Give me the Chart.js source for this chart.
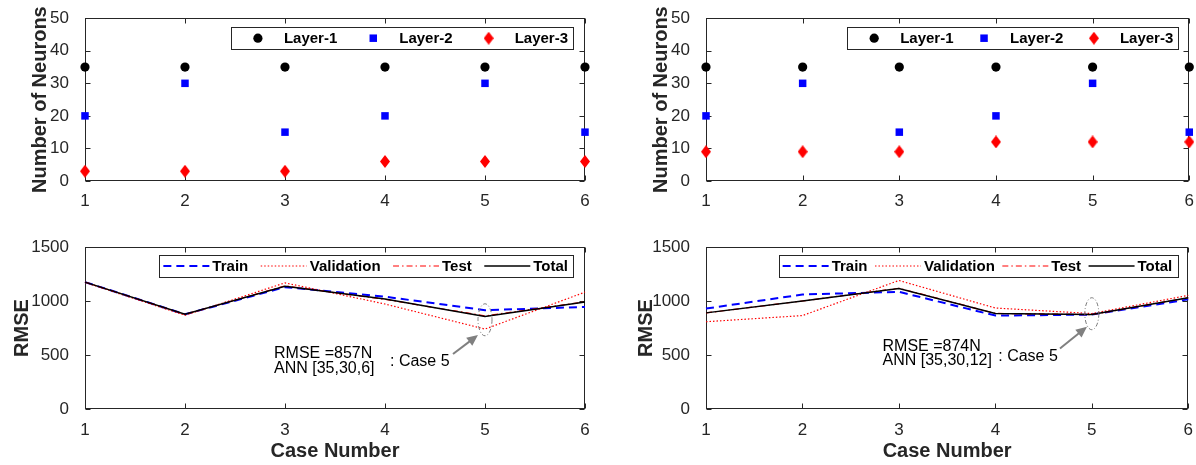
<!DOCTYPE html>
<html>
<head>
<meta charset="utf-8">
<script src="https://cdn.jsdelivr.net/npm/chart.js@4.4.0/dist/chart.umd.min.js"></script>
<style>
  html, body { margin: 0; padding: 0; background: #fff; }
  #wrap { position: relative; width: 1196px; height: 465px; overflow: hidden; }
  #wrap canvas { position: absolute; }
</style>
</head>
<body>
<div id="wrap">
  <canvas id="neuronsA" width="600" height="215" style="left:0;top:0"></canvas>
  <canvas id="neuronsB" width="596" height="215" style="left:600px;top:0"></canvas>
  <canvas id="rmseA" width="600" height="240" style="left:0;top:225px"></canvas>
  <canvas id="rmseB" width="596" height="240" style="left:600px;top:225px"></canvas>
</div>
<script>
// ---- data ----
const caseNumbers = [1, 2, 3, 4, 5, 6];

// left column (ANN [35,30,6])
const layer1A = [35, 35, 35, 35, 35, 35];
const layer2A = [20, 30, 15, 20, 30, 15];
const layer3A = [3, 3, 3, 6, 6, 6];
const trainA = [1175, 877, 1128, 1040, 915, 945];
const validA = [1172, 868, 1168, 972, 740, 1082];
const testA = [1175, 876, 1140, 1015, 862, 992];
const totalA = [1175, 877, 1136, 1018, 857, 990];

// right column (ANN [35,30,12])
const layer1B = [35, 35, 35, 35, 35, 35];
const layer2B = [20, 30, 15, 20, 30, 15];
const layer3B = [9, 9, 9, 12, 12, 12];
const trainB = [930, 1060, 1085, 865, 874, 1015];
const validB = [808, 865, 1190, 935, 884, 1052];
const testB = [890, 1000, 1118, 885, 874, 1030];
const totalB = [890, 1000, 1115, 885, 874, 1030];

const neuronTicks = { min: 0, max: 50, step: 10 };
const rmseTicks = { min: 0, max: 1500, step: 500 };

// ---- look ----
const FONT = "'Liberation Sans', Arial, Helvetica, sans-serif";
const AX = '#262626';
Chart.defaults.font.family = FONT;
Chart.defaults.color = AX;

function makeDiamond(w, h, color) {
  const c = document.createElement('canvas');
  c.width = w; c.height = h;
  const g = c.getContext('2d');
  g.fillStyle = color;
  g.beginPath();
  g.moveTo(w / 2, 0); g.lineTo(w, h / 2); g.lineTo(w / 2, h); g.lineTo(0, h / 2);
  g.closePath(); g.fill();
  return c;
}
const redDiamond = makeDiamond(10, 13, '#ff0000');

function pts(vals) {
  return caseNumbers.map((c, i) => ({ x: c, y: vals[i] }));
}

// MATLAB style box with inward ticks on all four sides
const boxPlugin = {
  id: 'matBox',
  beforeDatasetsDraw(chart) {
    const { ctx, chartArea: a, scales: { x, y } } = chart;
    const L = Math.round(a.left) + 0.5, R = Math.round(a.right) - 0.5;
    const T = Math.round(a.top) + 0.5, B = Math.round(a.bottom) - 0.5;
    const tl = 5;
    ctx.save();
    ctx.strokeStyle = AX;
    ctx.lineWidth = 1;
    ctx.strokeRect(L, T, R - L, B - T);
    ctx.beginPath();
    x.ticks.forEach(t => {
      const px = Math.round(x.getPixelForValue(t.value)) + 0.5;
      ctx.moveTo(px, B); ctx.lineTo(px, B - tl);
      ctx.moveTo(px, T); ctx.lineTo(px, T + tl);
    });
    y.ticks.forEach(t => {
      const py = Math.round(y.getPixelForValue(t.value)) + 0.5;
      ctx.moveTo(L, py); ctx.lineTo(L + tl, py);
      ctx.moveTo(R, py); ctx.lineTo(R - tl, py);
    });
    ctx.stroke();
    ctx.restore();
  }
};

// note text, arrow and dashed ellipse around case 5
const annotPlugin = {
  id: 'annot',
  afterDatasetsDraw(chart, args, o) {
    const { ctx, scales: { x, y } } = chart;
    ctx.save();
    // ellipse
    ctx.strokeStyle = '#7a7a7a';
    ctx.lineWidth = 1;
    ctx.setLineDash([4, 2, 1, 2]);
    ctx.beginPath();
    ctx.ellipse(x.getPixelForValue(o.ellipse.x), y.getPixelForValue(o.ellipse.y), o.ellipse.rx, o.ellipse.ry, 0, 0, Math.PI * 2);
    ctx.stroke();
    ctx.setLineDash([]);
    // arrow
    const x1 = x.getPixelForValue(o.arrow.x1), y1 = y.getPixelForValue(o.arrow.y1);
    const x2 = x.getPixelForValue(o.arrow.x2), y2 = y.getPixelForValue(o.arrow.y2);
    const ang = Math.atan2(y2 - y1, x2 - x1);
    const hl = 11, hw = 5;
    ctx.strokeStyle = '#808080';
    ctx.fillStyle = '#808080';
    ctx.lineWidth = 2;
    ctx.beginPath();
    ctx.moveTo(x1, y1);
    ctx.lineTo(x2 - Math.cos(ang) * hl * 0.8, y2 - Math.sin(ang) * hl * 0.8);
    ctx.stroke();
    ctx.beginPath();
    ctx.moveTo(x2, y2);
    ctx.lineTo(x2 - Math.cos(ang) * hl + Math.sin(ang) * hw, y2 - Math.sin(ang) * hl - Math.cos(ang) * hw);
    ctx.lineTo(x2 - Math.cos(ang) * hl - Math.sin(ang) * hw, y2 - Math.sin(ang) * hl + Math.cos(ang) * hw);
    ctx.closePath();
    ctx.fill();
    // text
    ctx.fillStyle = '#000';
    ctx.font = '16px ' + FONT;
    ctx.textAlign = 'left';
    ctx.textBaseline = 'middle';
    o.texts.forEach(t => ctx.fillText(t.text, x.getPixelForValue(t.x), y.getPixelForValue(t.y)));
    ctx.restore();
  }
};

// horizontal boxed legend in the upper right corner of the axes
const legendPlugin = {
  id: 'matLegend',
  afterDraw(chart, args, o) {
    const { ctx, chartArea: a } = chart;
    const sets = chart.data.datasets;
    const iconW = 52;
    ctx.save();
    ctx.font = 'bold 15px ' + FONT;
    const widths = sets.map(d => ctx.measureText(d.label).width);
    let total = o.padL + o.padR;
    widths.forEach((w, i) => { total += iconW + w + (i < widths.length - 1 ? o.gap : 0); });
    const right = a.right - o.right;
    const left = right - total;
    const top = a.top + o.top;
    const h = o.height;
    const cy = top + h / 2;
    ctx.fillStyle = '#fff';
    ctx.fillRect(left, top, total, h);
    ctx.strokeStyle = AX;
    ctx.lineWidth = 1;
    ctx.strokeRect(Math.round(left) + 0.5, Math.round(top) + 0.5, Math.round(total), h);
    let xx = left + o.padL;
    sets.forEach((d, i) => {
      if (o.kind === 'marker') {
        ctx.save();
        ctx.fillStyle = d.backgroundColor;
        ctx.strokeStyle = d.borderColor;
        Chart.helpers.drawPoint(ctx, { pointStyle: d.pointStyle, rotation: 0, radius: d.pointRadius, borderWidth: 0 }, xx + 26, cy);
        ctx.restore();
      } else {
        ctx.save();
        ctx.strokeStyle = d.borderColor;
        ctx.lineWidth = d.borderWidth;
        ctx.setLineDash(d.borderDash || []);
        ctx.beginPath();
        ctx.moveTo(xx + 3, cy);
        ctx.lineTo(xx + 49, cy);
        ctx.stroke();
        ctx.restore();
      }
      ctx.fillStyle = '#000';
      ctx.textAlign = 'left';
      ctx.textBaseline = 'middle';
      ctx.fillText(d.label, xx + iconW, cy + 1);
      xx += iconW + widths[i] + o.gap;
    });
    ctx.restore();
  }
};

function scaleOpts(cfg) {
  return {
    x: {
      type: 'linear', min: 1, max: 6,
      ticks: { stepSize: 1, padding: cfg.xTickPad, font: { size: 17 }, color: AX },
      grid: { display: false }, border: { display: false },
      title: cfg.xTitle
        ? { display: true, text: cfg.xTitle, font: { size: 20, weight: 'bold' }, color: AX, padding: { top: 0, bottom: 2 } }
        : { display: false },
      afterFit: s => { s.height = cfg.xH; }
    },
    y: {
      type: 'linear', min: cfg.ticks.min, max: cfg.ticks.max,
      ticks: { stepSize: cfg.ticks.step, padding: 8, font: { size: 17 }, color: AX, callback: v => String(v) },
      grid: { display: false }, border: { display: false },
      title: { display: true, text: cfg.yTitle, font: { size: 20, weight: 'bold' }, color: AX, padding: { top: cfg.yTitlePad, bottom: 0 } },
      afterFit: s => { s.width = cfg.yW; }
    }
  };
}

function build(id, type, datasets, cfg) {
  return new Chart(document.getElementById(id), {
    type: type,
    data: { datasets: datasets },
    options: {
      responsive: false,
      animation: false,
      events: [],
      layout: { padding: { left: 0, top: cfg.top, right: cfg.right, bottom: 0 } },
      scales: scaleOpts(cfg),
      plugins: {
        legend: { display: false },
        tooltip: { enabled: false },
        matLegend: cfg.legend,
        annot: cfg.annot || false
      }
    },
    plugins: [boxPlugin, annotPlugin, legendPlugin]
  });
}

function neuronSets(l1, l2, l3) {
  return [
    { label: 'Layer-1', data: pts(l1), pointStyle: 'circle', pointRadius: 4.6, backgroundColor: '#000', borderColor: '#000', borderWidth: 0, clip: false },
    { label: 'Layer-2', data: pts(l2), pointStyle: 'rect', pointRadius: 5.3, backgroundColor: '#0000ff', borderColor: '#0000ff', borderWidth: 0, clip: false },
    { label: 'Layer-3', data: pts(l3), pointStyle: redDiamond, pointRadius: 6, backgroundColor: '#ff0000', borderColor: '#ff0000', borderWidth: 0, clip: false }
  ];
}

function rmseSets(tr, va, te, to) {
  return [
    { label: 'Train', data: pts(tr), borderColor: '#0000ff', borderWidth: 2, borderDash: [8, 5], pointRadius: 0, order: 3, clip: false },
    { label: 'Validation', data: pts(va), borderColor: '#ff0000', borderWidth: 1.2, borderDash: [1.5, 2], pointRadius: 0, order: 2, clip: false },
    { label: 'Test', data: pts(te), borderColor: '#ff0000', borderWidth: 1.2, borderDash: [6, 3, 1.5, 3], pointRadius: 0, order: 1, clip: false },
    { label: 'Total', data: pts(to), borderColor: '#000', borderWidth: 1.5, pointRadius: 0, order: 0, clip: false }
  ];
}

build('neuronsA', 'scatter', neuronSets(layer1A, layer2A, layer3A), {
  top: 18, right: 15, xH: 34, xTickPad: 2, yW: 85, yTitle: 'Number of Neurons', yTitlePad: 28, ticks: neuronTicks,
  legend: { kind: 'marker', right: 12, top: 9, height: 22, gap: 10, padL: 1, padR: 5 }
});

build('neuronsB', 'scatter', neuronSets(layer1B, layer2B, layer3B), {
  top: 18, right: 6, xH: 34, xTickPad: 2, yW: 106, yTitle: 'Number of Neurons', yTitlePad: 49, ticks: neuronTicks,
  legend: { kind: 'marker', right: 11, top: 9, height: 22, gap: 4.5, padL: 1, padR: 5 }
});

build('rmseA', 'line', rmseSets(trainA, validA, testA, totalA), {
  top: 22, right: 15, xH: 56, xTickPad: 3, yW: 85, yTitle: 'RMSE', yTitlePad: 10, xTitle: 'Case Number', ticks: rmseTicks,
  legend: { kind: 'line', right: 12, top: 8, height: 22, gap: 9.5, padL: 1, padR: 5 },
  annot: {
    texts: [
      { text: 'RMSE =857N', x: 2.89, y: 509 },
      { text: 'ANN [35,30,6]', x: 2.89, y: 377 },
      { text: ': Case 5', x: 4.05, y: 438 }
    ],
    arrow: { x1: 4.68, y1: 509, x2: 4.93, y2: 685 },
    ellipse: { x: 5, y: 826, rx: 7, ry: 16 }
  }
});

build('rmseB', 'line', rmseSets(trainB, validB, testB, totalB), {
  top: 22, right: 6, xH: 56, xTickPad: 3, yW: 106, yTitle: 'RMSE', yTitlePad: 34, xTitle: 'Case Number', ticks: rmseTicks,
  legend: { kind: 'line', right: 11, top: 8, height: 22, gap: 4.5, padL: 1, padR: 5 },
  annot: {
    texts: [
      { text: 'RMSE =874N', x: 2.83, y: 574 },
      { text: 'ANN [35,30,12]', x: 2.83, y: 451 },
      { text: ': Case 5', x: 4.03, y: 486 }
    ],
    arrow: { x1: 4.67, y1: 561, x2: 4.95, y2: 762 },
    ellipse: { x: 5, y: 882, rx: 7, ry: 16 }
  }
});
</script>
</body>
</html>
